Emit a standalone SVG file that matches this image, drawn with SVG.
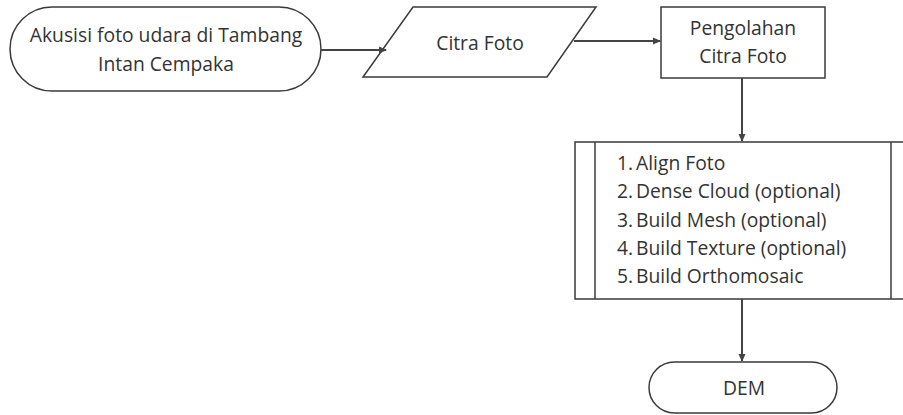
<svg xmlns="http://www.w3.org/2000/svg" width="903" height="415" viewBox="0 0 903 415">
<style>
.s{fill:#fff;stroke:#3a3a3a;stroke-width:1.5}
.t{font-family:"Open Sans","Liberation Sans",sans-serif;font-size:19.3px;font-weight:400;fill:#333}
.c{stroke:#444;stroke-width:2;fill:none}
</style>
<defs>
<marker id="ah" markerWidth="8" markerHeight="8" refX="7" refY="4" orient="auto" markerUnits="userSpaceOnUse">
<path d="M0,0.5 L8,4 L0,7.5 Z" fill="#444"/>
</marker>
</defs>
<rect width="903" height="415" fill="#fff"/>
<g id="start">
<rect class="s" x="10" y="7" width="311" height="84" rx="42" ry="42"/>
<text class="t" x="166" y="42" text-anchor="middle">Akusisi foto udara di Tambang</text>
<text class="t" x="166" y="71" text-anchor="middle">Intan Cempaka</text>
</g>
<g id="citra">
<polygon class="s" points="413,7 596,7 547,77 363,77"/>
<text class="t" x="480" y="50" text-anchor="middle">Citra Foto</text>
</g>
<g id="pengolahan">
<rect class="s" x="661" y="7" width="164" height="71"/>
<text class="t" x="743" y="35" text-anchor="middle">Pengolahan</text>
<text class="t" x="743" y="63" text-anchor="middle">Citra Foto</text>
</g>
<g id="proses">
<rect class="s" x="575" y="142" width="340" height="157"/>
<line class="s" x1="595" y1="142" x2="595" y2="299"/>
<line class="s" x1="891" y1="142" x2="891" y2="299"/>
<text class="t" x="617" y="170">1.</text><text class="t" x="636" y="170">Align Foto</text>
<text class="t" x="617" y="198">2.</text><text class="t" x="636" y="198">Dense Cloud (optional)</text>
<text class="t" x="617" y="227">3.</text><text class="t" x="636" y="227">Build Mesh (optional)</text>
<text class="t" x="617" y="255">4.</text><text class="t" x="636" y="255">Build Texture (optional)</text>
<text class="t" x="617" y="283">5.</text><text class="t" x="636" y="283">Build Orthomosaic</text>
</g>
<g id="dem">
<rect class="s" x="649" y="362" width="188" height="51" rx="25.5" ry="25.5"/>
<text class="t" x="744" y="395" text-anchor="middle">DEM</text>
</g>
<g id="connectors">
<line class="c" x1="321" y1="50" x2="386" y2="50" marker-end="url(#ah)"/>
<line class="c" x1="574" y1="41" x2="660" y2="41" marker-end="url(#ah)"/>
<line class="c" x1="742" y1="78" x2="742" y2="141" marker-end="url(#ah)"/>
<line class="c" x1="742" y1="299" x2="742" y2="361" marker-end="url(#ah)"/>
</g>
</svg>
